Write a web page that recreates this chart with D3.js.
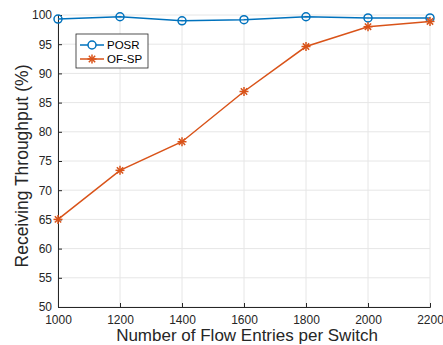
<!DOCTYPE html>
<html>
<head>
<meta charset="utf-8">
<script src="https://cdn.jsdelivr.net/npm/d3@7"></script>
<style>
  body { margin: 0; background: #fff; }
  text { font-family: "Liberation Sans", Arial, sans-serif; }
</style>
</head>
<body>
<div class="chart"></div>
<script>
const entries = [1000, 1200, 1400, 1600, 1800, 2000, 2200]
const posr = [99.3, 99.7, 99.0, 99.2, 99.7, 99.5, 99.5]
const ofsp = [65.0, 73.4, 78.3, 86.9, 94.6, 98.0, 98.9]
const yTicks = [50, 55, 60, 65, 70, 75, 80, 85, 90, 95, 100]
const seriesNames = ['POSR', 'OF-SP']

const width = 443, height = 345
const margin = { left: 58, right: 13, top: 15, bottom: 38 }

const x = d3.scaleLinear().domain([1000, 2200]).range([margin.left, width - margin.right])
const y = d3.scaleLinear().domain([50, 100]).range([height - margin.bottom, margin.top])

const svg = d3.select('.chart').append('svg')
    .attr('width', width)
    .attr('height', height)

// сетка
svg.append('g').selectAll('line')
    .data(entries)
    .enter().append('line')
    .attr('x1', d => x(d)).attr('x2', d => x(d))
    .attr('y1', y(50)).attr('y2', y(100))
    .style('stroke', '#e6e6e6')
svg.append('g').selectAll('line')
    .data(yTicks)
    .enter().append('line')
    .attr('x1', x(1000)).attr('x2', x(2200))
    .attr('y1', d => y(d)).attr('y2', d => y(d))
    .style('stroke', '#e6e6e6')

const xAxis = svg.append('g')
    .attr('transform', 'translate(0,' + y(50) + ')')
    .call(d3.axisBottom(x).tickValues(entries).tickSize(-4).tickPadding(8).tickFormat(d3.format('d')))
const yAxis = svg.append('g')
    .attr('transform', 'translate(' + x(1000) + ',0)')
    .call(d3.axisLeft(y).tickValues(yTicks).tickSize(-4).tickPadding(6))

;[xAxis, yAxis].forEach(a => {
    a.select('.domain').style('stroke', '#262626')
    a.selectAll('.tick line').style('stroke', '#262626')
    a.selectAll('.tick text').style('fill', '#262626').style('font-size', '12px')
        .style('font-family', '"Liberation Sans", Arial, sans-serif')
})

svg.append('text')
    .attr('x', (x(1000) + x(2200)) / 2 + 3)
    .attr('y', 341)
    .style('text-anchor', 'middle')
    .style('font-size', '17px')
    .style('fill', '#262626')
    .text('Number of Flow Entries per Switch')

svg.append('text')
    .attr('transform', 'translate(28,' + ((y(50) + y(100)) / 2 + 5) + ') rotate(-90)')
    .style('text-anchor', 'middle')
    .style('font-size', '17.5px')
    .style('fill', '#262626')
    .text('Receiving Throughput (%)')

const line = d3.line().x((d, i) => x(entries[i])).y(d => y(d))

// POSR
svg.append('path').datum(posr)
    .attr('d', line)
    .style('fill', 'none').style('stroke', '#0072BD').style('stroke-width', 1.5)
svg.append('g').selectAll('circle')
    .data(posr)
    .enter().append('circle')
    .attr('cx', (d, i) => x(entries[i]))
    .attr('cy', d => y(d))
    .attr('r', 4)
    .style('fill', 'none').style('stroke', '#0072BD').style('stroke-width', 1.5)

function star(g, cx, cy, color) {
    const r = 4.5
    const angles = [0, 45, 90, 135]
    angles.forEach(a => {
        const rad = a * Math.PI / 180
        g.append('line')
            .attr('x1', cx - r * Math.cos(rad)).attr('y1', cy - r * Math.sin(rad))
            .attr('x2', cx + r * Math.cos(rad)).attr('y2', cy + r * Math.sin(rad))
            .style('stroke', color).style('stroke-width', 1.5)
    })
}

// OF-SP
svg.append('path').datum(ofsp)
    .attr('d', line)
    .style('fill', 'none').style('stroke', '#D95319').style('stroke-width', 1.5)
const starG = svg.append('g')
ofsp.forEach((d, i) => star(starG, x(entries[i]), y(d), '#D95319'))

// легенда
const legend = svg.append('g').attr('transform', 'translate(76,34)')
legend.append('rect')
    .attr('width', 72).attr('height', 34)
    .style('fill', 'white').style('stroke', '#262626').style('stroke-width', 0.8)
const colors = ['#0072BD', '#D95319']
seriesNames.forEach((name, i) => {
    const ly = 11 + i * 14
    legend.append('line')
        .attr('x1', 4).attr('x2', 28).attr('y1', ly).attr('y2', ly)
        .style('stroke', colors[i]).style('stroke-width', 1.5)
    if (i === 0) {
        legend.append('circle').attr('cx', 16).attr('cy', ly).attr('r', 4)
            .style('fill', 'white').style('stroke', colors[i]).style('stroke-width', 1.5)
    } else {
        star(legend, 16, ly, colors[i])
    }
    legend.append('text')
        .attr('x', 31).attr('y', ly + 4)
        .style('font-size', '11.5px')
        .style('fill', '#000')
        .text(name)
})
</script>
</body>
</html>
